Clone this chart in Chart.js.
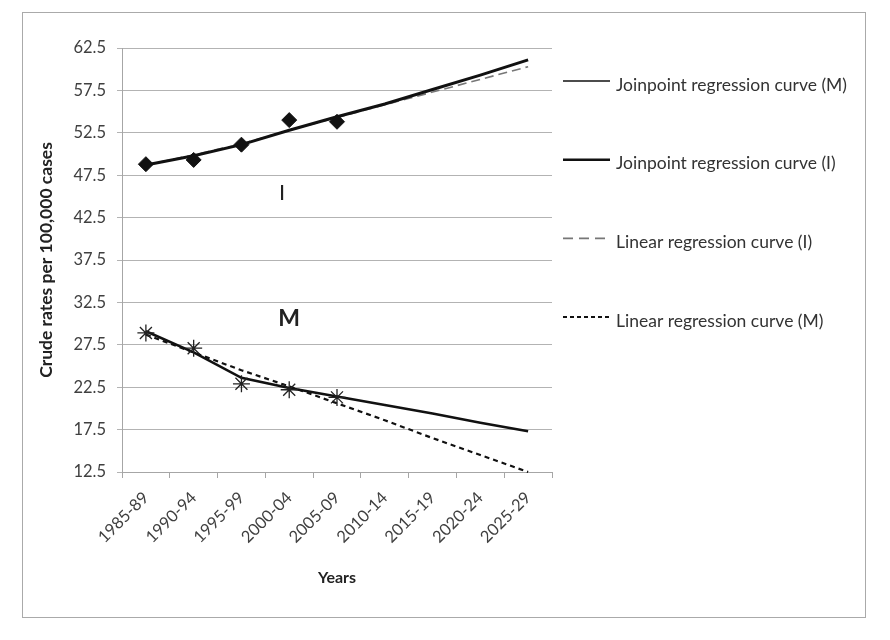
<!DOCTYPE html>
<html lang="en">
<head>
  <meta charset="UTF-8" />
  <title>Crude rates per 100,000 cases</title>
  <script src="https://cdn.jsdelivr.net/npm/chart.js"></script>
  <style>
    body { margin: 0; background: #fff; }
    .frame { position: absolute; left: 22px; top: 12px; width: 844px; height: 606px; box-sizing: border-box; border: 1px solid #aaa; background: #fff; }
    canvas { display: block; }
  </style>
</head>
<body>
  <div class="frame"><canvas id="chart" width="842" height="604"></canvas></div>

  <script>
    const years = ['1985-89', '1990-94', '1995-99', '2000-04', '2005-09', '2010-14', '2015-19', '2020-24', '2025-29'];

    // observed crude rates
    const obsI = [48.8, 49.3, 51.1, 54.0, 53.8, null, null, null, null];
    const obsM = [28.9, 27.1, 22.9, 22.2, 21.3, null, null, null, null];

    // fitted / projected curves
    const joinM = [29.1, 26.6, 23.6, 22.4, 21.4, 20.4, 19.4, 18.3, 17.3];
    const joinI = [48.7, 49.8, 51.1, 52.8, 54.4, 55.9, 57.6, 59.3, 61.1];
    const linI = [48.7, 49.9, 51.2, 52.8, 54.3, 55.8, 57.3, 58.8, 60.3];
    const linM = [28.7, 26.6, 24.5, 22.6, 20.6, 18.6, 16.5, 14.5, 12.5];

    const yTicks = { min: 12.5, max: 62.5, step: 5 };

    // curve letters: [text, category index, value]
    const letters = [['I', 2.85, 45.4], ['M', 3.0, 30.6]];

    const legendOrder = ['Joinpoint regression curve (M)', 'Joinpoint regression curve (I)', 'Linear regression curve (I)', 'Linear regression curve (M)'];

    Chart.defaults.font.family = 'Lato, "Open Sans", sans-serif';
    Chart.defaults.color = '#404040';

    const sideLegend = {
      id: 'sideLegend',
      afterDraw(chart) {
        const { ctx, chartArea } = chart;
        const x0 = chartArea.right + 11;
        ctx.save();
        legendOrder.forEach((name, i) => {
          const ds = chart.data.datasets.find(d => d.label === name);
          const y = chartArea.top + 33 + i * 78.7;
          ctx.beginPath();
          ctx.setLineDash(ds.legendDash || []);
          ctx.lineWidth = ds.legendWidth;
          ctx.strokeStyle = ds.borderColor;
          ctx.moveTo(x0, y);
          ctx.lineTo(x0 + 47, y);
          ctx.stroke();
          ctx.setLineDash([]);
          ctx.fillStyle = '#333';
          ctx.font = '17.5px Lato, sans-serif';
          ctx.textBaseline = 'middle';
          ctx.fillText(name, x0 + 53, y + 4);
        });
        ctx.restore();
      }
    };

    const curveLetters = {
      id: 'curveLetters',
      afterDatasetsDraw(chart) {
        const { ctx, scales } = chart;
        ctx.save();
        ctx.fillStyle = '#222';
        ctx.textAlign = 'center';
        ctx.textBaseline = 'middle';
        letters.forEach(([t, xi, v]) => {
          ctx.font = t === 'M' ? 'bold 23px Lato, sans-serif' : '22px Lato, sans-serif';
          ctx.fillText(t, scales.x.getPixelForValue(xi), scales.y.getPixelForValue(v));
        });
        ctx.restore();
      }
    };

    new Chart(document.getElementById('chart'), {
      type: 'line',
      data: {
        labels: years,
        datasets: [
          { label: 'Observed (I)', data: obsI, showLine: false, pointStyle: 'rectRot', pointRadius: 7.5,
            backgroundColor: '#111', borderColor: '#111', borderWidth: 1 },
          { label: 'Observed (M)', data: obsM, showLine: false, pointStyle: 'star', pointRadius: 8.5,
            backgroundColor: '#222', borderColor: '#222', borderWidth: 1.3 },
          { label: 'Joinpoint regression curve (M)', data: joinM, borderColor: '#111', borderWidth: 2.6,
            pointRadius: 0, legendWidth: 1.6, clip: false },
          { label: 'Joinpoint regression curve (I)', data: joinI, borderColor: '#111', borderWidth: 3,
            pointRadius: 0, legendWidth: 2.4, clip: false },
          { label: 'Linear regression curve (I)', data: linI, borderColor: '#777', borderWidth: 1.6,
            borderDash: [9, 5], legendDash: [10, 6], pointRadius: 0, legendWidth: 1.6, clip: false },
          { label: 'Linear regression curve (M)', data: linM, borderColor: '#111', borderWidth: 2.2,
            borderDash: [5, 4], legendDash: [4, 3], pointRadius: 0, legendWidth: 2, clip: false }
        ]
      },
      options: {
        responsive: false,
        animation: false,
        layout: { padding: { left: 10, top: 35, right: 313, bottom: 0 } },
        plugins: { legend: { display: false }, tooltip: { enabled: false } },
        scales: {
          x: {
            offset: true,
            grid: { offset: true, drawOnChartArea: false, tickLength: 6, color: '#a6a6a6' },
            border: { color: '#a6a6a6' },
            ticks: { maxRotation: 45, minRotation: 45, padding: 10, font: { size: 16.5 }, color: '#404040' },
            title: { display: true, text: 'Years', font: { size: 16, weight: 'bold' }, color: '#222', padding: { top: 0, bottom: 30 } },
            afterFit(s) { s.height = 145; }
          },
          y: {
            min: yTicks.min,
            max: yTicks.max,
            grid: { color: '#b3b3b3', tickLength: 5 },
            border: { color: '#a6a6a6' },
            ticks: { stepSize: yTicks.step, padding: 11, font: { size: 16.5 }, color: '#404040' },
            title: { display: true, text: 'Crude rates per 100,000 cases', font: { size: 17.5, weight: 'bold' }, color: '#222', padding: { top: 3, bottom: 0 } },
            afterFit(s) { s.width = 89; }
          }
        }
      },
      plugins: [sideLegend, curveLetters]
    });
  </script>
</body>
</html>
